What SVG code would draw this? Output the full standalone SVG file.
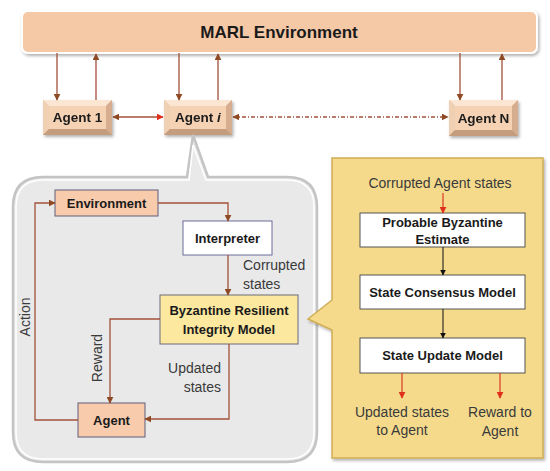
<svg xmlns="http://www.w3.org/2000/svg" width="550" height="471" viewBox="0 0 550 471">
<defs>
<style>
.t{font-family:"Liberation Sans",Arial,sans-serif;fill:#1a1a1a}
.b{font-weight:bold}
.n{font-size:14px;fill:#3a3a3a}
.c{stroke:#a4513a;stroke-width:1.3;fill:none}
.k{stroke:#222;stroke-width:1.1;fill:none}
.r{stroke:#d9462a;stroke-width:1.3;fill:none}
.bev-top{fill:#fbe6d4}
.bev-l{fill:#f0d0b3}
.bev-r{fill:#d6ae8f}
.bev-b{fill:#c49c7e}
.bev-c{fill:#f5d2b3}
</style>
<marker id="ab" viewBox="0 0 10 10" refX="9" refY="5" markerWidth="7" markerHeight="7" markerUnits="userSpaceOnUse" orient="auto-start-reverse"><path d="M0,0 L10,5 L0,10 z" fill="#8e4a24"/></marker>
<marker id="ar" viewBox="0 0 10 10" refX="9" refY="5" markerWidth="7" markerHeight="7" markerUnits="userSpaceOnUse" orient="auto-start-reverse"><path d="M0,0 L10,5 L0,10 z" fill="#e0301c"/></marker>
<marker id="ak" viewBox="0 0 10 10" refX="9" refY="5" markerWidth="6" markerHeight="6" markerUnits="userSpaceOnUse" orient="auto-start-reverse"><path d="M0,0 L10,5 L0,10 z" fill="#111"/></marker>
<filter id="sh" x="-10%" y="-10%" width="130%" height="140%"><feDropShadow dx="1.5" dy="2" stdDeviation="1.5" flood-color="#000" flood-opacity="0.3"/></filter>
</defs>

<g id="marl-environment">
<rect x="22" y="11" width="515" height="42" rx="6" fill="#f5c8a6" stroke="#ffffff" stroke-width="2" filter="url(#sh)"/>
<text class="t b" x="279" y="38" font-size="17" text-anchor="middle">MARL Environment</text>
</g>

<g id="agent-1" filter="url(#sh)">
<rect x="43" y="100" width="69" height="35" fill="#e0bb9c"/>
<polygon class="bev-top" points="43,100 112,100 106,106 49,106"/>
<polygon class="bev-l" points="43,100 49,106 49,129 43,135"/>
<polygon class="bev-r" points="112,100 106,106 106,129 112,135"/>
<polygon class="bev-b" points="43,135 49,129 106,129 112,135"/>
<rect class="bev-c" x="49" y="106" width="57" height="23"/>
<text class="t b" x="77.5" y="122" font-size="13.5" text-anchor="middle">Agent 1</text>
</g>

<g id="agent-i" filter="url(#sh)">
<rect x="164" y="100" width="68" height="35" fill="#e0bb9c"/>
<polygon class="bev-top" points="164,100 232,100 226,106 170,106"/>
<polygon class="bev-l" points="164,100 170,106 170,129 164,135"/>
<polygon class="bev-r" points="232,100 226,106 226,129 232,135"/>
<polygon class="bev-b" points="164,135 170,129 226,129 232,135"/>
<rect class="bev-c" x="170" y="106" width="56" height="23"/>
<text class="t b" x="198" y="122" font-size="13.5" text-anchor="middle">Agent <tspan font-style="italic">i</tspan></text>
</g>

<g id="agent-n" filter="url(#sh)">
<rect x="449" y="100" width="69" height="36" fill="#e0bb9c"/>
<polygon class="bev-top" points="449,100 518,100 512,106 455,106"/>
<polygon class="bev-l" points="449,100 455,106 455,130 449,136"/>
<polygon class="bev-r" points="518,100 512,106 512,130 518,136"/>
<polygon class="bev-b" points="449,136 455,130 512,130 518,136"/>
<rect class="bev-c" x="455" y="106" width="57" height="24"/>
<text class="t b" x="483.5" y="123" font-size="13.5" text-anchor="middle">Agent N</text>
</g>

<g id="agent-i-detail-panel">
<path d="M43,177 L187,177 L193,135 L208,177 L287,177 Q317,177 317,207 L317,432 Q317,462 287,462 L43,462 Q13,462 13,432 L13,207 Q13,177 43,177 Z" fill="#e9e9e9" stroke="#c4c4c4" stroke-width="2.5"/>
<path d="M43,180 L189,180 L193,145 L206,180 L287,180 Q314,180 314,207 L314,432 Q314,459 287,459 L43,459 Q16,459 16,432 L16,207 Q16,180 43,180 Z" fill="none" stroke="#ffffff" stroke-width="1.5"/>
</g>

<g id="bri-detail-panel">
<path d="M332,158 L543,158 L543,458 L332,458 L332,330 L308,319 L332,300 Z" fill="#f5da8c" stroke="#cfad55" stroke-width="1.5" filter="url(#sh)"/>
</g>

<g id="environment">
<rect x="55" y="190" width="103" height="26" fill="#f8cbad" stroke="#5f5f7a" stroke-width="1"/>
<text class="t b" x="106.5" y="208" font-size="13" text-anchor="middle">Environment</text>
</g>

<g id="interpreter">
<rect x="183" y="221" width="89" height="34" fill="#ffffff" stroke="#6a6a9a" stroke-width="1"/>
<text class="t b" x="227.5" y="243" font-size="13" text-anchor="middle">Interpreter</text>
</g>

<g id="byzantine-resilient-integrity-model">
<rect x="160" y="295" width="138" height="49" fill="#fde8a0" stroke="#6a6a7a" stroke-width="1"/>
<text class="t b" x="229" y="315" font-size="13" text-anchor="middle">Byzantine Resilient</text>
<text class="t b" x="229" y="334" font-size="13" text-anchor="middle">Integrity Model</text>
</g>

<g id="agent">
<rect x="78" y="403" width="67" height="34" fill="#f8cbad" stroke="#5f5f7a" stroke-width="1"/>
<text class="t b" x="111.5" y="425" font-size="13" text-anchor="middle">Agent</text>
</g>

<g id="probable-byzantine-estimate">
<rect x="360" y="213" width="165" height="34" fill="#ffffff" stroke="#555" stroke-width="1"/>
<text class="t b" x="442.5" y="227" font-size="13" text-anchor="middle">Probable Byzantine</text>
<text class="t b" x="442.5" y="244" font-size="13" text-anchor="middle">Estimate</text>
</g>

<g id="state-consensus-model">
<rect x="360" y="275" width="165" height="34" fill="#ffffff" stroke="#555" stroke-width="1"/>
<text class="t b" x="442.5" y="297" font-size="13" text-anchor="middle">State Consensus Model</text>
</g>

<g id="state-update-model">
<rect x="360" y="338" width="165" height="35" fill="#ffffff" stroke="#555" stroke-width="1"/>
<text class="t b" x="442.5" y="360" font-size="13" text-anchor="middle">State Update Model</text>
</g>

<g id="labels">
<text class="t n" x="243" y="270">Corrupted</text>
<text class="t n" x="243" y="289">states</text>
<text class="t n" x="221" y="373" text-anchor="end">Updated</text>
<text class="t n" x="221" y="392" text-anchor="end">states</text>
<text class="t n" transform="translate(30,317) rotate(-90)" text-anchor="middle">Action</text>
<text class="t n" transform="translate(102,358) rotate(-90)" text-anchor="middle">Reward</text>
<text class="t n" x="440" y="188" text-anchor="middle">Corrupted Agent states</text>
<text class="t n" x="402" y="417" text-anchor="middle">Updated states</text>
<text class="t n" x="402" y="435" text-anchor="middle">to Agent</text>
<text class="t n" x="500" y="417" text-anchor="middle">Reward to</text>
<text class="t n" x="500" y="436" text-anchor="middle">Agent</text>
</g>

<g id="connectors">
<line class="c" x1="57" y1="53" x2="57" y2="100" marker-end="url(#ab)"/>
<line class="c" x1="96" y1="100" x2="96" y2="54" marker-end="url(#ab)"/>
<line class="c" x1="179" y1="53" x2="179" y2="100" marker-end="url(#ab)"/>
<line class="c" x1="218" y1="100" x2="218" y2="54" marker-end="url(#ab)"/>
<line class="c" x1="460" y1="53" x2="460" y2="100" marker-end="url(#ab)"/>
<line class="c" x1="502" y1="100" x2="502" y2="54" marker-end="url(#ab)"/>
<line class="c" x1="113" y1="117" x2="163" y2="117" marker-start="url(#ab)" marker-end="url(#ar)"/>
<line class="c" x1="233" y1="117" x2="448" y2="117" stroke-dasharray="4 2 1 2" stroke-width="1.1" marker-start="url(#ab)" marker-end="url(#ab)"/>
<polyline class="c" points="158,203 228,203 228,221" marker-end="url(#ab)"/>
<line class="c" x1="228" y1="255" x2="228" y2="295" marker-end="url(#ab)"/>
<polyline class="c" points="160,319 110,319 110,403" marker-end="url(#ab)"/>
<polyline class="c" points="229,344 229,419 145,419" marker-end="url(#ab)"/>
<polyline class="c" points="78,420 35,420 35,203 55,203" marker-end="url(#ab)"/>
<line class="r" x1="443" y1="193" x2="443" y2="213" marker-end="url(#ar)"/>
<line class="k" x1="443" y1="247" x2="443" y2="275" marker-end="url(#ak)"/>
<line class="k" x1="443" y1="309" x2="443" y2="338" marker-end="url(#ak)"/>
<line class="r" x1="402" y1="373" x2="402" y2="398" marker-end="url(#ar)"/>
<line class="r" x1="500" y1="373" x2="500" y2="398" marker-end="url(#ar)"/>
</g>
</svg>
